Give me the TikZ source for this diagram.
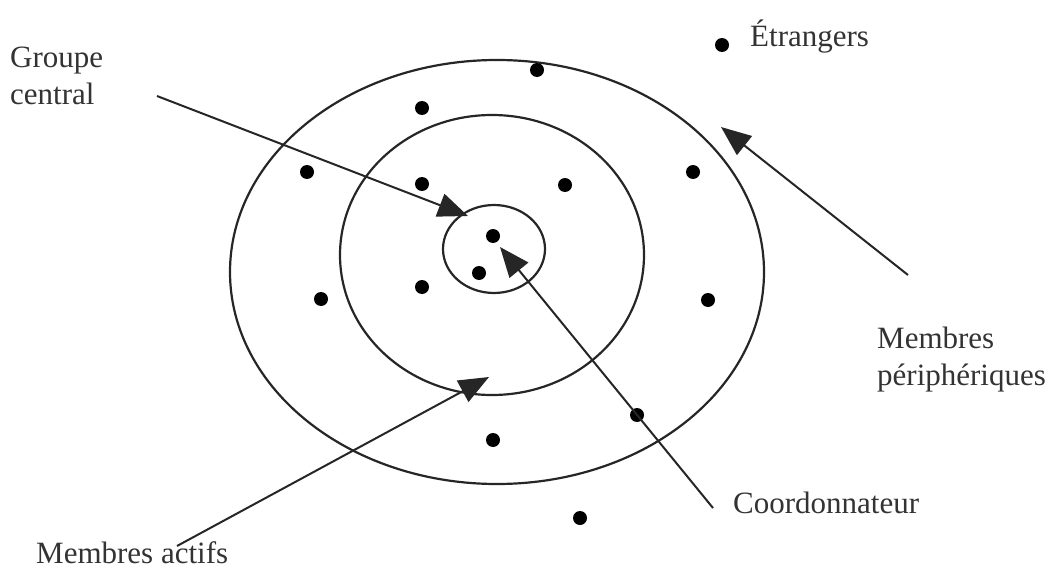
\documentclass[tikz,border=0pt]{standalone}
\usepackage{fontspec}
\setmainfont{Liberation Serif}
\usetikzlibrary{arrows.meta}
\begin{document}
\begin{tikzpicture}[x=1pt,y=-1pt,
  ring/.style={draw=black!85, line width=2.2pt},
  dot/.style={circle, fill=black, inner sep=0pt, minimum size=14pt},
  lbl/.style={anchor=base west, inner sep=0pt, text=black!80, font=\fontsize{31}{37}\selectfont},
  pointer/.style={draw=black!85, line width=2pt, -{Triangle[length=30pt,width=24pt]}}]
\useasboundingbox (0,0) rectangle (1053,578);
% rings
\draw[ring] (497,272) ellipse [x radius=267, y radius=212];
\draw[ring] (492,255) ellipse [x radius=152, y radius=140];
\draw[ring] (494,249) ellipse [x radius=51, y radius=44];
% dots
\foreach \p [count=\i] in {(537,70),(422,108),(307,172),(422,184),(565,185),(693,172),(493,236),(479,273),(321,299),(422,287),(708,300),(637,415),(493,440),(580,518),(722,45)}
  \node[dot] (d\i) at \p {};
% labels
\node[lbl] (gc1) at (10,67) {Groupe};
\node[lbl] (gc2) at (10,104) {central};
\node[lbl] (etr) at (750,47) {Étrangers};
\node[lbl] (mp1) at (877,348) {Membres};
\node[lbl] (mp2) at (877,385) {périphériques};
\node[lbl] (coo) at (733,513) {Coordonnateur};
\node[lbl] (mac) at (36,563) {Membres actifs};
% arrow ends
\coordinate (gcs) at (157,96);
\coordinate (gct) at (468,216);
\coordinate (mps) at (908,275);
\coordinate (mpt) at (721,127);
\coordinate (cos) at (713,508);
\coordinate (cot) at (500,247);
\coordinate (mas) at (177,546);
\coordinate (mat) at (489,377);
\draw[pointer] (gcs) -- (gct);
\draw[pointer] (mps) -- (mpt);
\draw[pointer] (cos) -- (cot);
\draw[pointer] (mas) -- (mat);
\end{tikzpicture}
\end{document}
